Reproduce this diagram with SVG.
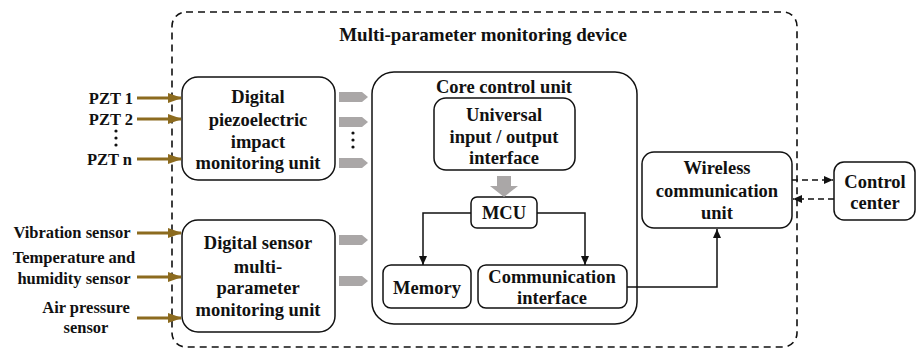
<svg xmlns="http://www.w3.org/2000/svg" width="918" height="350" viewBox="0 0 918 350">
<style>
text{font-family:"Liberation Serif","Times New Roman",serif;font-weight:bold;fill:#111;}
.bt{font-size:18.5px;text-anchor:middle;}
.lt{font-size:16.5px;}
.box{fill:#fff;stroke:#111;stroke-width:1.5;}
.br{stroke:#8c6b1f;stroke-width:3;fill:none;marker-end:url(#ba);}
.bl{stroke:#111;stroke-width:1.5;fill:none;marker-end:url(#ka);}
.ds{stroke:#111;stroke-width:1.5;fill:none;stroke-dasharray:6,4;marker-end:url(#ka);}
.ga{fill:#aaa7a7;}
</style>
<defs>
<marker id="ba" markerWidth="14" markerHeight="10" refX="13" refY="5" orient="auto" markerUnits="userSpaceOnUse"><path d="M0,0 L14,5 L0,10 Z" fill="#8c6b1f"/></marker>
<marker id="ka" markerWidth="9" markerHeight="8" refX="9" refY="4" orient="auto" markerUnits="userSpaceOnUse"><path d="M0,0 L9,4 L0,8 Z" fill="#111"/></marker>
</defs>
<g id="device">
<rect x="172" y="12" width="625" height="335" rx="14" fill="none" stroke="#111" stroke-width="1.6" stroke-dasharray="7,5"/>
<text x="483" y="41" style="font-size:19px;text-anchor:middle;">Multi-parameter monitoring device</text>
</g>
<g id="inputs">
<text class="lt" x="133" y="104" text-anchor="end">PZT 1</text>
<text class="lt" x="133" y="125" text-anchor="end">PZT 2</text>
<circle cx="116" cy="131" r="1.6" fill="#111"/><circle cx="116" cy="138" r="1.6" fill="#111"/><circle cx="116" cy="145" r="1.6" fill="#111"/>
<text class="lt" x="132" y="165" text-anchor="end">PZT n</text>
<text class="lt" x="72" y="238" text-anchor="middle">Vibration sensor</text>
<text class="lt" x="74" y="263" text-anchor="middle">Temperature and</text>
<text class="lt" x="74" y="284" text-anchor="middle">humidity sensor</text>
<text class="lt" x="86" y="313" text-anchor="middle">Air pressure</text>
<text class="lt" x="86" y="333" text-anchor="middle">sensor</text>
</g>
<g id="piezo">
<rect class="box" x="182" y="77" width="153" height="103" rx="16"/>
<text class="bt" x="258" y="103">Digital</text>
<text class="bt" x="258" y="126">piezoelectric</text>
<text class="bt" x="258" y="148">impact</text>
<text class="bt" x="258" y="169">monitoring unit</text>
</g>
<g id="sensor">
<rect class="box" x="182" y="220" width="153" height="112" rx="16"/>
<text class="bt" x="258" y="249">Digital sensor</text>
<text class="bt" x="258" y="273">multi-</text>
<text class="bt" x="258" y="294">parameter</text>
<text class="bt" x="258" y="316">monitoring unit</text>
</g>
<g id="core">
<rect class="box" x="372" y="72" width="265" height="252" rx="22"/>
<text class="bt" x="504" y="93">Core control unit</text>
</g>
<g id="io">
<rect class="box" x="434" y="98" width="141" height="72" rx="12"/>
<text class="bt" x="504" y="121">Universal</text>
<text class="bt" x="504" y="143">input / output</text>
<text class="bt" x="504" y="164">interface</text>
</g>
<g id="mcu">
<rect class="box" x="471" y="197" width="66" height="31" rx="6"/>
<text class="bt" x="504" y="219">MCU</text>
</g>
<g id="memory">
<rect class="box" x="383" y="265" width="88" height="43" rx="8"/>
<text class="bt" x="427" y="294">Memory</text>
</g>
<g id="comm">
<rect class="box" x="478" y="265" width="149" height="43" rx="8"/>
<text class="bt" x="552" y="283">Communication</text>
<text class="bt" x="552" y="304">interface</text>
</g>
<g id="wireless">
<rect class="box" x="642" y="152" width="150" height="76" rx="12"/>
<text class="bt" x="717" y="174">Wireless</text>
<text class="bt" x="717" y="197">communication</text>
<text class="bt" x="717" y="219">unit</text>
</g>
<g id="control">
<rect class="box" x="834" y="162" width="81" height="58" rx="10"/>
<text class="bt" x="875" y="188">Control</text>
<text class="bt" x="875" y="209">center</text>
</g>
<g id="connectors">
<line class="br" x1="137" y1="98" x2="181" y2="98"/>
<line class="br" x1="137" y1="119" x2="181" y2="119"/>
<line class="br" x1="137" y1="159" x2="181" y2="159"/>
<line class="br" x1="137" y1="233" x2="181" y2="233"/>
<line class="br" x1="137" y1="277" x2="181" y2="277"/>
<line class="br" x1="137" y1="318" x2="181" y2="318"/>
<polygon class="ga" points="339,92 362,92 368,97 362,102 339,102"/>
<polygon class="ga" points="339,117 362,117 368,122 362,127 339,127"/>
<polygon class="ga" points="339,158 362,158 368,163 362,168 339,168"/>
<polygon class="ga" points="339,235 362,235 368,240 362,245 339,245"/>
<polygon class="ga" points="339,276 362,276 368,281 362,286 339,286"/>
<circle cx="353" cy="133" r="1.6" fill="#111"/><circle cx="353" cy="140" r="1.6" fill="#111"/><circle cx="353" cy="147" r="1.6" fill="#111"/>
<polygon class="ga" points="497,176 511,176 511,186 518,186 504,197 490,186 497,186"/>
<polyline class="bl" points="471,213 423,213 423,265"/>
<polyline class="bl" points="537,213 585,213 585,265"/>
<polyline class="bl" points="627,287 717,287 717,229"/>
<line class="ds" x1="792" y1="180" x2="833" y2="180"/>
<line class="ds" x1="834" y1="199" x2="793" y2="199"/>
</g>
</svg>
